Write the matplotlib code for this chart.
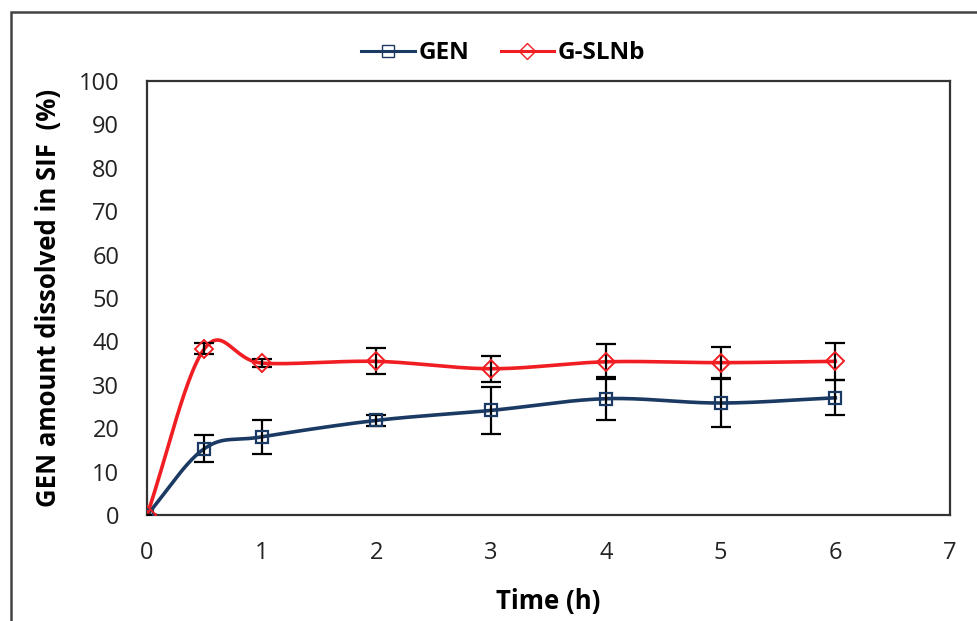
import numpy as np
import matplotlib
matplotlib.use("Agg")
import matplotlib.pyplot as plt
from matplotlib.patches import Rectangle

# data
time_h = [0, 0.5, 1, 2, 3, 4, 5, 6]
gen_mean = [0, 15.3, 18.0, 21.8, 24.1, 26.8, 25.8, 27.0]
gen_err = [0, 3.2, 3.9, 1.2, 5.4, 5.0, 5.5, 4.0]
slnb_mean = [0, 38.3, 35.0, 35.4, 33.7, 35.3, 35.1, 35.4]
slnb_err = [0, 1.3, 1.0, 3.0, 3.0, 4.0, 3.6, 4.2]

x_ticks = list(range(0, 8))
y_ticks = list(range(0, 101, 10))

plt.rcParams['font.family'] = ['Open Sans', 'DejaVu Sans']


def smooth(xs, ys, n=30):
    """Catmull-Rom through the points, roughly like Excel's smoothed line"""
    p = np.column_stack([xs, ys]).astype(float)
    p = np.vstack([2 * p[0] - p[1], p, 2 * p[-1] - p[-2]])
    out = []
    t = np.linspace(0, 1, n)[:, None]
    for i in range(1, len(p) - 2):
        p0, p1, p2, p3 = p[i - 1], p[i], p[i + 1], p[i + 2]
        seg = 0.5 * ((2 * p1) + (-p0 + p2) * t
                     + (2 * p0 - 5 * p1 + 4 * p2 - p3) * t ** 2
                     + (-p0 + 3 * p1 - 3 * p2 + p3) * t ** 3)
        out.append(seg)
    out = np.vstack(out)
    return out[:, 0], out[:, 1]


fig = plt.figure(figsize=(9.77, 6.21), dpi=100)
ax = fig.add_axes([0.1505, 0.1707, 0.8219, 0.6989])

navy = '#1B3A63'
red = '#F01E23'

# GEN
sx, sy = smooth(time_h, gen_mean)
ax.plot(sx, sy, color=navy, lw=2.6, zorder=3)
ax.errorbar(time_h, gen_mean, yerr=gen_err, fmt='none', ecolor='black',
            elinewidth=1.6, capsize=7, capthick=1.6, zorder=4)
ax.plot(time_h, gen_mean, ls='none', marker='s', ms=9, mfc='none',
        mec=navy, mew=1.6, zorder=5)

# G-SLNb
sx, sy = smooth(time_h, slnb_mean)
ax.plot(sx, sy, color=red, lw=2.6, zorder=3)
ax.errorbar(time_h, slnb_mean, yerr=slnb_err, fmt='none', ecolor='black',
            elinewidth=1.6, capsize=7, capthick=1.6, zorder=4)
ax.plot(time_h, slnb_mean, ls='none', marker='D', ms=9, mfc='none',
        mec=red, mew=1.4, zorder=5)

# legend handles
h1, = ax.plot([], [], color=navy, lw=2.2, marker='s', ms=8, mfc='none', mec=navy)
h2, = ax.plot([], [], color=red, lw=2.2, marker='D', ms=8, mfc='none', mec=red)
leg = fig.legend([h1, h2], ['GEN', 'G-SLNb'], loc='center', ncol=2,
                 bbox_to_anchor=(0.515, 0.914), frameon=False,
                 prop={'weight': 'bold', 'size': 17.5}, handlelength=2.2,
                 handletextpad=0.15, columnspacing=1.3)

ax.set_xlim(0, 7)
ax.set_ylim(0, 100)
ax.set_xticks(x_ticks)
ax.set_yticks(y_ticks)
ax.tick_params(length=0, labelsize=17, colors='#222222')
ax.tick_params(axis='x', pad=19)
ax.tick_params(axis='y', pad=20)
for s in ax.spines.values():
    s.set_linewidth(1.6)
    s.set_color('#333333')

ax.set_xlabel('Time (h)', fontsize=18.5, fontweight='bold', labelpad=16)
ax.set_ylabel('GEN amount dissolved in SIF  (%)', fontsize=18.5,
              fontweight='bold', labelpad=12)

# outer chart border (cut by the image on right and bottom)
fig.patches.append(Rectangle((11 / 977, -0.1), 1.2, 1.1 - 12 / 621,
                             transform=fig.transFigure, fill=False,
                             lw=1.8, ec='#444444'))

fig.savefig('out.png', dpi=100)
